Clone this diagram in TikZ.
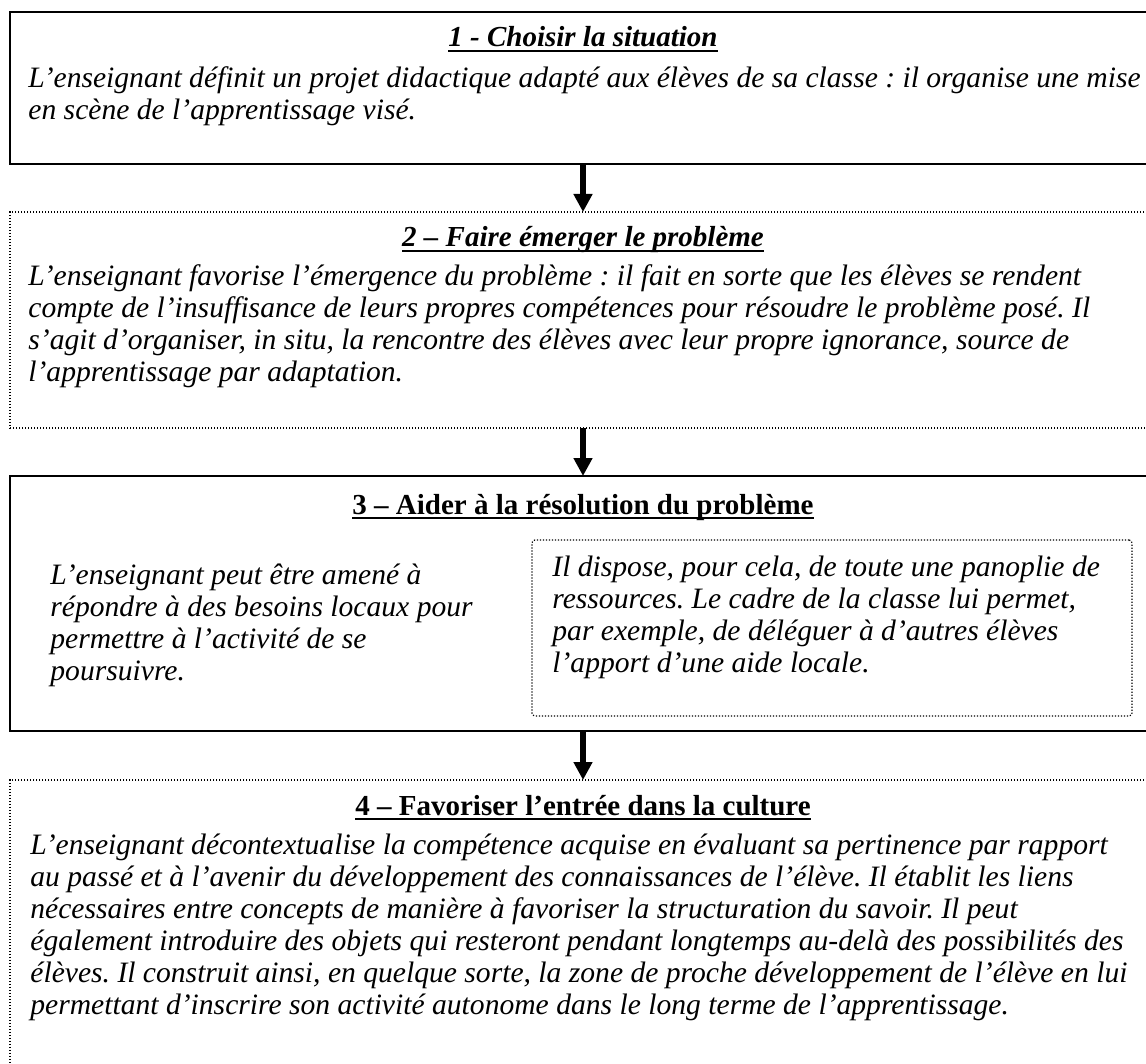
\documentclass[tikz,border=0pt]{standalone}
\usepackage{fontspec}
\setmainfont{Liberation Serif}
\usetikzlibrary{arrows.meta,positioning}
\frenchspacing
\newcommand{\soulign}[1]{\setbox0\hbox{#1}\rlap{\rule[-2.6pt]{\wd0}{0.9pt}}\box0}

\begin{document}
\begin{tikzpicture}[
    x=0.5pt, y=-0.5pt,
    plein/.style={draw, line width=1pt, inner sep=0pt, outer sep=0pt},
    pointille/.style={draw, line width=0.6pt, dash pattern=on 0.6pt off 0.9pt, inner sep=0pt, outer sep=0pt},
    titre/.style={font=\fontsize{14.5}{16}\selectfont\bfseries, anchor=base, inner sep=0pt},
    txt/.style={font=\fontsize{14.8}{16}\selectfont\itshape, align=left, anchor=north west, inner sep=0pt},
    fleche/.style={line width=2.6pt, -{Triangle[width=9pt,length=9pt]}}
  ]
\useasboundingbox (0,0) rectangle (1146,1064);
\clip (0,0) rectangle (1146,1064);

% boxes
\node[plein, minimum width=573pt, minimum height=76pt] (b1) at (583,88) {};
\node[pointille, minimum width=573pt, minimum height=108pt] (b2) at (583,320) {};
\node[plein, minimum width=573pt, minimum height=127.5pt] (b3) at (583,603.5) {};
\node[pointille, rounded corners=1.5pt, minimum width=300pt, minimum height=88pt] (b3d) at (832,628) {};
\node[pointille, minimum width=573pt, minimum height=150pt] (b4) at (583,930) {};

% arrows
\draw[fleche] (b1.south) -- (b2.north);
\draw[fleche] (b2.south) -- (b3.north);
\draw[fleche] (b3.south) -- (b4.north);

% titles
\node[titre] (t1) at (583,47) {\itshape\soulign{1 - Choisir la situation}};
\node[titre] (t2) at (583,247) {\itshape\soulign{2 – Faire émerger le problème}};
\node[titre] (t3) at (583,514) {\soulign{3 – Aider à la résolution du problème}};
\node[titre] (t4) at (583,815) {\soulign{4 – Favoriser l’entrée dans la culture}};

% texts
\node[txt] (p1) at (28,65) {\strut L’enseignant définit un projet didactique adapté aux élèves de sa classe : il organise une mise\\
  en scène de l’apprentissage visé.};
\node[txt] (p2) at (28,263) {\strut L’enseignant favorise l’émergence du problème : il fait en sorte que les élèves se rendent\\
  compte de l’insuffisance de leurs propres compétences pour résoudre le problème posé. Il\\
  s’agit d’organiser, in situ, la rencontre des élèves avec leur propre ignorance, source de\\
  l’apprentissage par adaptation.};
\node[txt] (p3g) at (50,562) {\strut L’enseignant peut être amené à\\
  répondre à des besoins locaux pour\\
  permettre à l’activité de se\\
  poursuivre.};
\node[txt] (p3d) at (552,554) {\strut Il dispose, pour cela, de toute une panoplie de\\
  ressources. Le cadre de la classe lui permet,\\
  par exemple, de déléguer à d’autres élèves\\
  l’apport d’une aide locale.};
\node[txt] (p4) at (30,832) {\strut L’enseignant décontextualise la compétence acquise en évaluant sa pertinence par rapport\\
  au passé et à l’avenir du développement des connaissances de l’élève. Il établit les liens\\
  nécessaires entre concepts de manière à favoriser la structuration du savoir. Il peut\\
  également introduire des objets qui resteront pendant longtemps au-delà des possibilités des\\
  élèves. Il construit ainsi, en quelque sorte, la zone de proche développement de l’élève en lui\\
  permettant d’inscrire son activité autonome dans le long terme de l’apprentissage.};

\end{tikzpicture}
\end{document}
